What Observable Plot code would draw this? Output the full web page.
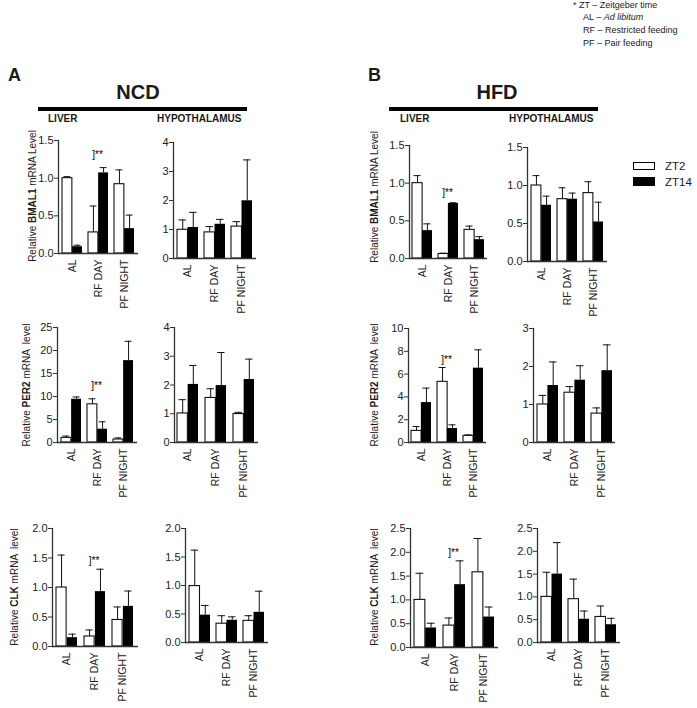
<!DOCTYPE html>
<html><head><meta charset="utf-8">
<script src="https://cdn.jsdelivr.net/npm/d3@7"></script>
<script src="https://cdn.jsdelivr.net/npm/@observablehq/plot@0.6"></script>
<style>
body{margin:0;background:#fff;font-family:"Liberation Sans",Arial,sans-serif;color:#1a1a1a}
#fig{position:relative;width:697px;height:708px;overflow:hidden;background:#fff}
.abs{position:absolute;white-space:nowrap;line-height:1}
.ytitle{position:absolute;white-space:nowrap;font-size:10px;line-height:1;transform:translate(-50%,-50%) rotate(-90deg)}
</style></head><body><div id="fig"></div><script>
// ---------- data ----------
const categories = ["AL", "RF DAY", "PF NIGHT"];
const seriesNames = ["ZT2", "ZT14"];
const sigLabel = "]**";

// NCD – liver – BMAL1
const ncdLiverBmal1Zt2 = [1.00, 0.28, 0.92];
const ncdLiverBmal1Zt2Sem = [0.02, 0.35, 0.19];
const ncdLiverBmal1Zt14 = [0.09, 1.07, 0.33];
const ncdLiverBmal1Zt14Sem = [0.02, 0.07, 0.18];
// NCD – hypothalamus – BMAL1
const ncdHypoBmal1Zt2 = [0.99, 0.90, 1.10];
const ncdHypoBmal1Zt2Sem = [0.34, 0.20, 0.17];
const ncdHypoBmal1Zt14 = [1.07, 1.18, 1.99];
const ncdHypoBmal1Zt14Sem = [0.52, 0.17, 1.41];
// HFD – liver – BMAL1
const hfdLiverBmal1Zt2 = [1.00, 0.06, 0.38];
const hfdLiverBmal1Zt2Sem = [0.10, 0.01, 0.05];
const hfdLiverBmal1Zt14 = [0.37, 0.73, 0.25];
const hfdLiverBmal1Zt14Sem = [0.09, 0.01, 0.04];
// HFD – hypothalamus – BMAL1
const hfdHypoBmal1Zt2 = [1.00, 0.82, 0.90];
const hfdHypoBmal1Zt2Sem = [0.13, 0.15, 0.15];
const hfdHypoBmal1Zt14 = [0.74, 0.82, 0.52];
const hfdHypoBmal1Zt14Sem = [0.12, 0.08, 0.26];
// NCD – liver – PER2
const ncdLiverPer2Zt2 = [1.0, 8.3, 0.65];
const ncdLiverPer2Zt2Sem = [0.4, 1.2, 0.35];
const ncdLiverPer2Zt14 = [9.4, 2.9, 17.8];
const ncdLiverPer2Zt14Sem = [0.5, 1.6, 4.2];
// NCD – hypothalamus – PER2
const ncdHypoPer2Zt2 = [1.01, 1.55, 0.99];
const ncdHypoPer2Zt2Sem = [0.48, 0.32, 0.06];
const ncdHypoPer2Zt14 = [2.02, 1.98, 2.19];
const ncdHypoPer2Zt14Sem = [0.66, 1.15, 0.71];
// HFD – liver – PER2
const hfdLiverPer2Zt2 = [1.02, 5.32, 0.58];
const hfdLiverPer2Zt2Sem = [0.38, 1.26, 0.09];
const hfdLiverPer2Zt14 = [3.5, 1.23, 6.52];
const hfdLiverPer2Zt14Sem = [1.27, 0.32, 1.61];
// HFD – hypothalamus – PER2
const hfdHypoPer2Zt2 = [1.0, 1.31, 0.76];
const hfdHypoPer2Zt2Sem = [0.24, 0.16, 0.15];
const hfdHypoPer2Zt14 = [1.5, 1.64, 1.89];
const hfdHypoPer2Zt14Sem = [0.62, 0.38, 0.68];
// NCD – liver – CLK
const ncdLiverClkZt2 = [1.0, 0.17, 0.45];
const ncdLiverClkZt2Sem = [0.55, 0.11, 0.22];
const ncdLiverClkZt14 = [0.15, 0.93, 0.68];
const ncdLiverClkZt14Sem = [0.06, 0.38, 0.26];
// NCD – hypothalamus – CLK
const ncdHypoClkZt2 = [0.99, 0.33, 0.38];
const ncdHypoClkZt2Sem = [0.63, 0.14, 0.09];
const ncdHypoClkZt14 = [0.48, 0.39, 0.53];
const ncdHypoClkZt14Sem = [0.17, 0.06, 0.37];
// HFD – liver – CLK
const hfdLiverClkZt2 = [1.0, 0.46, 1.58];
const hfdLiverClkZt2Sem = [0.56, 0.16, 0.71];
const hfdLiverClkZt14 = [0.41, 1.32, 0.64];
const hfdLiverClkZt14Sem = [0.10, 0.50, 0.21];
// HFD – hypothalamus – CLK
const hfdHypoClkZt2 = [1.0, 0.95, 0.56];
const hfdHypoClkZt2Sem = [0.54, 0.44, 0.24];
const hfdHypoClkZt14 = [1.50, 0.51, 0.39];
const hfdHypoClkZt14Sem = [0.69, 0.18, 0.14];

// significance label positions (value axis)
const sigNcdLiverBmal1 = 1.31, sigHfdLiverBmal1 = 0.87;
const sigNcdLiverPer2 = 12.4, sigHfdLiverPer2 = 7.25;
const sigNcdLiverClk = 1.45, sigHfdLiverClk = 1.99;

// tick labels
const ticksBmal1Liver = [0, 0.5, 1.0, 1.5];
const ticksNcdHypoBmal1 = [0, 1, 2, 3, 4];
const ticksHfdHypoBmal1 = [0, 0.5, 1.0, 1.5];
const ticksNcdLiverPer2 = [0, 5, 10, 15, 20, 25];
const ticksNcdHypoPer2 = [0, 1, 2, 3, 4];
const ticksHfdLiverPer2 = [0, 2, 4, 6, 8, 10];
const ticksHfdHypoPer2 = [0, 1, 2, 3];
const ticksNcdClk = [0, 0.5, 1.0, 1.5, 2.0];
const ticksHfdClk = [0, 0.5, 1.0, 1.5, 2.0, 2.5];

// ---------- layout ----------
const fig = document.getElementById("fig");
const f1 = d3.format(".1f"), f0 = d3.format("d");

const panels = [
  {L:{x0:58,x1:138,top:140,bot:253}, zt2:ncdLiverBmal1Zt2, s2:ncdLiverBmal1Zt2Sem, zt14:ncdLiverBmal1Zt14, s14:ncdLiverBmal1Zt14Sem, ticks:ticksBmal1Liver, fmt:f1, sig:sigNcdLiverBmal1},
  {L:{x0:173,x1:256,top:142,bot:258}, zt2:ncdHypoBmal1Zt2, s2:ncdHypoBmal1Zt2Sem, zt14:ncdHypoBmal1Zt14, s14:ncdHypoBmal1Zt14Sem, ticks:ticksNcdHypoBmal1, fmt:f0},
  {L:{x0:409,x1:487,top:145,bot:258}, zt2:hfdLiverBmal1Zt2, s2:hfdLiverBmal1Zt2Sem, zt14:hfdLiverBmal1Zt14, s14:hfdLiverBmal1Zt14Sem, ticks:ticksBmal1Liver, fmt:f1, sig:sigHfdLiverBmal1},
  {L:{x0:527,x1:607,top:147,bot:261}, zt2:hfdHypoBmal1Zt2, s2:hfdHypoBmal1Zt2Sem, zt14:hfdHypoBmal1Zt14, s14:hfdHypoBmal1Zt14Sem, ticks:ticksHfdHypoBmal1, fmt:f1},
  {L:{x0:57,x1:137,top:327,bot:442}, zt2:ncdLiverPer2Zt2, s2:ncdLiverPer2Zt2Sem, zt14:ncdLiverPer2Zt14, s14:ncdLiverPer2Zt14Sem, ticks:ticksNcdLiverPer2, fmt:f0, sig:sigNcdLiverPer2},
  {L:{x0:174,x1:258,top:327,bot:442}, zt2:ncdHypoPer2Zt2, s2:ncdHypoPer2Zt2Sem, zt14:ncdHypoPer2Zt14, s14:ncdHypoPer2Zt14Sem, ticks:ticksNcdHypoPer2, fmt:f0},
  {L:{x0:408,x1:486,top:328,bot:442}, zt2:hfdLiverPer2Zt2, s2:hfdLiverPer2Zt2Sem, zt14:hfdLiverPer2Zt14, s14:hfdLiverPer2Zt14Sem, ticks:ticksHfdLiverPer2, fmt:f0, sig:sigHfdLiverPer2},
  {L:{x0:533,x1:615,top:328,bot:442}, zt2:hfdHypoPer2Zt2, s2:hfdHypoPer2Zt2Sem, zt14:hfdHypoPer2Zt14, s14:hfdHypoPer2Zt14Sem, ticks:ticksHfdHypoPer2, fmt:f0},
  {L:{x0:52,x1:138,top:528,bot:646}, zt2:ncdLiverClkZt2, s2:ncdLiverClkZt2Sem, zt14:ncdLiverClkZt14, s14:ncdLiverClkZt14Sem, ticks:ticksNcdClk, fmt:f1, sig:sigNcdLiverClk},
  {L:{x0:185,x1:268,top:528,bot:642}, zt2:ncdHypoClkZt2, s2:ncdHypoClkZt2Sem, zt14:ncdHypoClkZt14, s14:ncdHypoClkZt14Sem, ticks:ticksNcdClk, fmt:f1},
  {L:{x0:410,x1:498,top:528,bot:647}, zt2:hfdLiverClkZt2, s2:hfdLiverClkZt2Sem, zt14:hfdLiverClkZt14, s14:hfdLiverClkZt14Sem, ticks:ticksHfdClk, fmt:f1, sig:sigHfdLiverClk},
  {L:{x0:537,x1:620,top:528,bot:642}, zt2:hfdHypoClkZt2, s2:hfdHypoClkZt2Sem, zt14:hfdHypoClkZt14, s14:hfdHypoClkZt14Sem, ticks:ticksHfdClk, fmt:f1}
];

const PI = 0.24, PO = 0.12;
function makePanel(p) {
  const L = p.L, ml = 40, mr = 6, mt = 10, mb = 62;
  const W = L.x1 - L.x0, H = L.bot - L.top;
  const width = ml + W + mr, height = mt + H + mb;
  const xs = Plot.scale({x: {type: "band", domain: categories, range: [ml, ml + W], paddingInner: PI, paddingOuter: PO}});
  const bw = xs.bandwidth, half = bw / 2, cap = 1.5;
  const white = categories.map((c, i) => ({cat: c, series: seriesNames[0], v: p.zt2[i], top: p.zt2[i] + p.s2[i]}));
  const black = categories.map((c, i) => ({cat: c, series: seriesNames[1], v: p.zt14[i], top: p.zt14[i] + p.s14[i]}));
  const marks = [
    Plot.ruleX(white, {x: "cat", y1: "v", y2: "top", dx: -bw / 4, stroke: "#111", strokeWidth: 1}),
    Plot.ruleX(black, {x: "cat", y1: "v", y2: "top", dx: bw / 4, stroke: "#111", strokeWidth: 1}),
    Plot.tickY(white, {x: "cat", y: "top", insetLeft: cap, insetRight: half + cap, stroke: "#111", strokeWidth: 1}),
    Plot.tickY(black, {x: "cat", y: "top", insetLeft: half + cap, insetRight: cap, stroke: "#111", strokeWidth: 1}),
    Plot.barY(white, {x: "cat", y: "v", fill: "white", stroke: "#111", strokeWidth: 1.1, insetRight: half}),
    Plot.barY(black, {x: "cat", y: "v", fill: "#000", insetLeft: half}),
    Plot.ruleY([0], {stroke: "#333", strokeWidth: 1.3}),
    Plot.frame({anchor: "left", stroke: "#333", strokeWidth: 1.3}),
    Plot.axisY(p.ticks, {tickFormat: p.fmt, tickSize: 4, tickPadding: 1, fontSize: 11, label: null, stroke: "#333"}),
    Plot.axisX({tickRotate: -90, tickSize: 0, tickPadding: 6, fontSize: 10.5, label: null})
  ];
  if (p.sig != null) marks.push(Plot.text([{cat: categories[1], y: p.sig}], {x: "cat", y: "y", text: () => sigLabel, fontSize: 10, dx: -1, fill: "black"}));
  const chart = Plot.plot({
    width, height, marginLeft: ml, marginRight: mr, marginTop: mt, marginBottom: mb,
    x: {domain: categories, paddingInner: PI, paddingOuter: PO},
    y: {domain: [0, p.ticks[p.ticks.length - 1]]},
    style: {background: "transparent", overflow: "visible", fontFamily: "Liberation Sans, Arial, sans-serif", color: "#222"},
    marks
  });
  chart.style.position = "absolute";
  chart.style.left = (L.x0 - ml) + "px";
  chart.style.top = (L.top - mt) + "px";
  fig.appendChild(chart);
}
panels.forEach(makePanel);

// ---------- text & decorations ----------
function addText(html, left, top, css) {
  const d = document.createElement("div");
  d.className = "abs"; d.innerHTML = html;
  d.style.left = left + "px"; d.style.top = top + "px";
  Object.assign(d.style, css || {});
  fig.appendChild(d); return d;
}
function addBox(left, top, w, h, css) {
  const d = document.createElement("div");
  d.style.position = "absolute"; d.style.left = left + "px"; d.style.top = top + "px";
  d.style.width = w + "px"; d.style.height = h + "px";
  Object.assign(d.style, css); fig.appendChild(d);
}
function addYTitle(gene, suffix, cx, cy) {
  const d = document.createElement("div");
  d.className = "ytitle";
  d.innerHTML = "Relative <b>" + gene + "</b> mRNA " + suffix;
  d.style.left = cx + "px"; d.style.top = cy + "px";
  fig.appendChild(d);
}
// footnote
addText("* ZT – Zeitgeber time", 573, 1, {fontSize: "9px"});
addText("AL – <i>Ad libitum</i>", 583, 13, {fontSize: "9px"});
addText("RF – Restricted feeding", 583, 26, {fontSize: "9px"});
addText("PF – Pair feeding", 583, 39, {fontSize: "9px"});
// panel letters and diet headers
addText("A", 8, 66, {fontSize: "18px", fontWeight: "bold"});
addText("B", 368, 66, {fontSize: "18px", fontWeight: "bold"});
addText("NCD", 138, 82, {fontSize: "20px", fontWeight: "bold", transform: "translateX(-50%)"});
addText("HFD", 497, 82, {fontSize: "20px", fontWeight: "bold", transform: "translateX(-50%)"});
addBox(38, 107, 209, 4, {background: "#000"});
addBox(389, 107, 209, 4, {background: "#000"});
addText("LIVER", 48, 114, {fontSize: "10px", fontWeight: "bold"});
addText("HYPOTHALAMUS", 157, 114, {fontSize: "10px", fontWeight: "bold"});
addText("LIVER", 400, 114, {fontSize: "10px", fontWeight: "bold"});
addText("HYPOTHALAMUS", 509, 114, {fontSize: "10px", fontWeight: "bold"});
// y titles
addYTitle("BMAL1", "Level", 33, 196);
addYTitle("BMAL1", "Level", 375, 197);
addYTitle("PER2", "&nbsp;level", 27, 385);
addYTitle("PER2", "&nbsp;level", 375, 385);
addYTitle("CLK", "&nbsp;level", 15, 587);
addYTitle("CLK", "&nbsp;level", 375, 587);
// legend
addBox(633, 162, 22, 8, {background: "#fff", border: "1px solid #000", boxSizing: "border-box"});
addBox(633, 177, 22, 9, {background: "#000"});
addText(seriesNames[0], 665, 161, {fontSize: "11.5px"});
addText(seriesNames[1], 665, 177, {fontSize: "11.5px"});
</script></body></html>
